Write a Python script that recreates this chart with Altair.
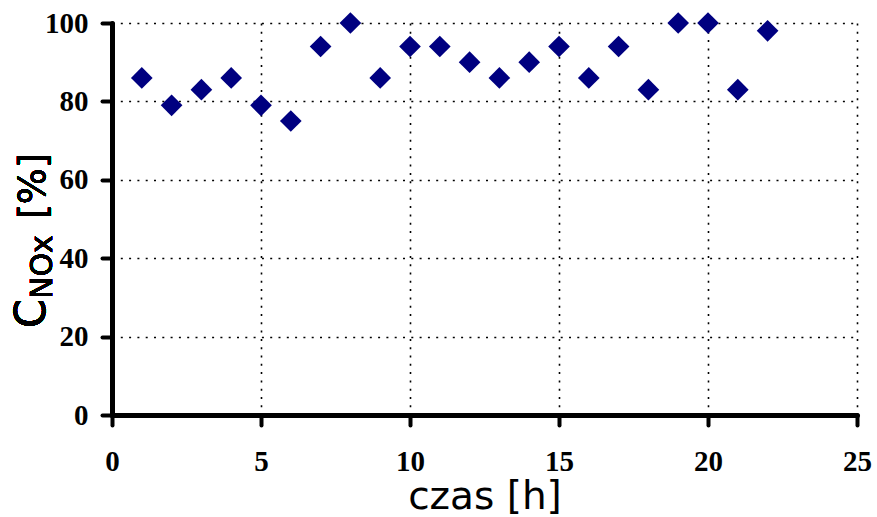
import altair as alt
import pandas as pd

hours = [1, 2, 3, 4, 5, 6, 7, 8, 9, 10, 11, 12, 13, 14, 15, 16, 17, 18, 19, 20, 21, 22]
conversion = [86, 79, 83, 86, 79, 75, 94, 100, 86, 94, 94, 90, 86, 90, 94, 86, 94, 83, 100, 100, 83, 98]
x_ticks = [0, 5, 10, 15, 20, 25]
y_ticks = [0, 20, 40, 60, 80, 100]

df = pd.DataFrame({"t": hours, "c": conversion})

axis_common = dict(
    labelFont="Liberation Serif",
    labelFontWeight="bold",
    labelFontSize=29,
    labelColor="black",
    domainColor="black",
    domainWidth=5,
    domainCap="round",
    tickColor="black",
    tickWidth=4,
    tickSize=10,
    tickCap="round",
    grid=True,
    gridColor="black",
    gridDash=[2, 6.3],
    gridWidth=1.6,
    gridOpacity=1,
)

points = alt.Chart(df).mark_point(
    shape="diamond", filled=True, size=470, color="#000080", opacity=1
).encode(
    x=alt.X(
        "t:Q",
        scale=alt.Scale(domain=[0, 25], nice=False),
        axis=alt.Axis(
            values=x_ticks,
            title="czas [h]",
            titleFont="DejaVu Sans",
            titleFontSize=39,
            titleFontWeight="normal",
            titleColor="black",
            titleY=93,
            titleBaseline="alphabetic",
            labelPadding=22,
            labelFlush=False,
            **axis_common,
        ),
    ),
    y=alt.Y(
        "c:Q",
        scale=alt.Scale(domain=[0, 100], nice=False),
        axis=alt.Axis(
            values=y_ticks,
            title=None,
            labelPadding=14,
            **axis_common,
        ),
    ),
)

title_font = "DejaVu Sans"
t_c = alt.Chart(df).mark_text(
    text="C", angle=270, align="left", baseline="alphabetic",
    font=title_font, fontSize=42, color="black"
).encode(x=alt.value(-67), y=alt.value(305))
t_sub = alt.Chart(df).mark_text(
    text="NOx", angle=270, align="left", baseline="alphabetic",
    font=title_font, fontSize=30, color="black"
).encode(x=alt.value(-60), y=alt.value(276))
t_pct = alt.Chart(df).mark_text(
    text="[%]", angle=270, align="left", baseline="alphabetic",
    font=title_font, fontSize=38, color="black"
).encode(x=alt.value(-67), y=alt.value(196))

chart = alt.layer(points, t_c, t_sub, t_pct).properties(
    width=745,
    height=392,
    autosize="none",
    padding={"left": 112, "top": 23, "right": 20, "bottom": 102},
).configure_view(stroke=None)

chart.save("out.html", embed_options={"renderer": "svg", "actions": False})
